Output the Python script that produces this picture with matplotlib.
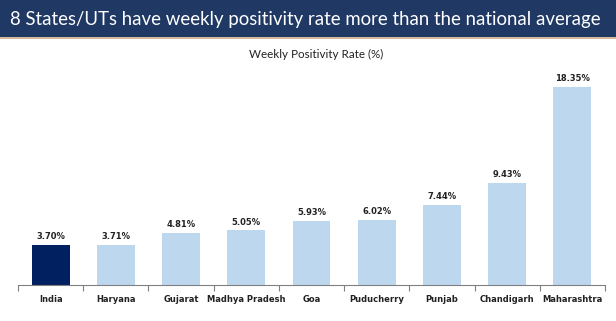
import matplotlib
matplotlib.use("Agg")
import matplotlib.pyplot as plt
from matplotlib.patches import Rectangle

categories = ["India", "Haryana", "Gujarat", "Madhya Pradesh", "Goa",
              "Puducherry", "Punjab", "Chandigarh", "Maharashtra"]
values = [3.70, 3.71, 4.81, 5.05, 5.93, 6.02, 7.44, 9.43, 18.35]
labels = ["3.70%", "3.71%", "4.81%", "5.05%", "5.93%", "6.02%", "7.44%", "9.43%", "18.35%"]
title = "8 States/UTs have weekly positivity rate more than the national average"
subtitle = "Weekly Positivity Rate (%)"

W, H = 616, 321
fig = plt.figure(figsize=(W / 100, H / 100), dpi=100)
fig.patch.set_facecolor("white")

# banner
fig.patches.append(Rectangle((0, 1 - 37 / H), 1, 37 / H, transform=fig.transFigure,
                             facecolor="#1F3864", edgecolor="none", zorder=0))
fig.patches.append(Rectangle((0, 1 - 39 / H), 1, 2 / H, transform=fig.transFigure,
                             facecolor="#D9B99B", edgecolor="none", zorder=0))
fig.text(10 / W, 1 - 19 / H, title, color="white", fontsize=13.4, family="Lato",
         va="center", ha="left")
fig.text(316 / W, 1 - 54 / H, subtitle, color="#222222", fontsize=8.4, family="Lato",
         va="center", ha="center")

ax = fig.add_axes([18 / W, 36 / H, (605 - 18) / W, (285 - 69) / H])
colors = ["#002060"] + ["#BDD7EE"] * (len(values) - 1)
x = list(range(len(categories)))
bars = ax.bar(x, values, width=0.58, color=colors)
for xi, v, lab in zip(x, values, labels):
    ax.text(xi, v + 0.35, lab, ha="center", va="bottom", fontsize=6,
            fontweight="bold", color="#222222", family="DejaVu Sans")

ax.set_xlim(-0.5, len(categories) - 0.5)
ax.set_ylim(0, 20)
ax.set_yticks([])
for s in ["top", "right", "left"]:
    ax.spines[s].set_visible(False)
ax.spines["bottom"].set_color("#808080")
ax.set_xticks([i + 0.5 for i in range(-1, len(categories))], minor=False)
ax.set_xticklabels([])
ax.tick_params(axis="x", length=4, color="#808080", direction="out")
ax.set_xticks(x, minor=True)
ax.set_xticklabels(categories, minor=True, fontsize=6, fontweight="bold",
                   color="#222222", family="DejaVu Sans")
ax.tick_params(axis="x", which="minor", length=0, pad=7)

fig.savefig("out.png", dpi=100, facecolor="white")
